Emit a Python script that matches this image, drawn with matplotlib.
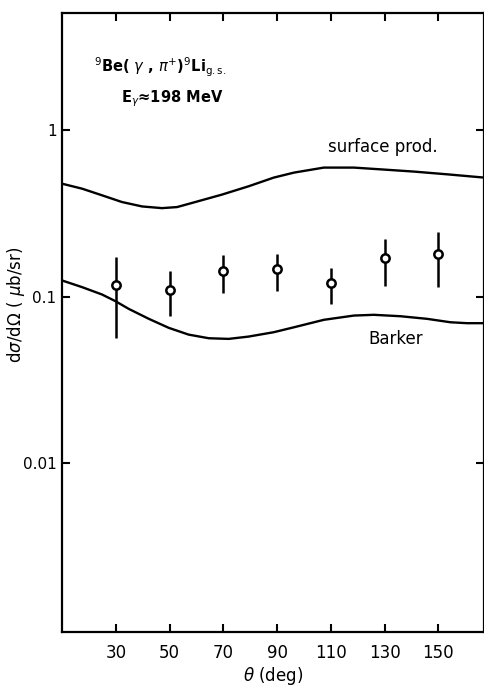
import matplotlib.pyplot as plt
from matplotlib.ticker import NullLocator, FixedLocator, FixedFormatter

# measured cross sections with error bar ends
theta = [30, 50, 70, 90, 110, 130, 150]
sigma = [0.118, 0.109, 0.142, 0.147, 0.120, 0.170, 0.179]
sigma_lo = [0.056, 0.076, 0.105, 0.108, 0.090, 0.115, 0.114]
sigma_hi = [0.174, 0.142, 0.178, 0.181, 0.148, 0.221, 0.244]

# surface production calculation
theta_surf = [10, 17.5, 24.9, 32.3, 39.8, 47.2, 52.8, 59.6, 69.5, 79.4, 88.8,
              96.3, 107.4, 118.6, 129.7, 140.9, 153.3, 167]
sigma_surf = [0.477, 0.445, 0.406, 0.370, 0.348, 0.340, 0.345, 0.370, 0.410,
              0.460, 0.519, 0.556, 0.596, 0.596, 0.580, 0.564, 0.543, 0.519]

# Barker wave functions
theta_barker = [10, 17.5, 24.9, 29.9, 34.8, 42.3, 49.7, 57.1, 64.6, 72.0, 79.4,
                88.8, 96.3, 107.4, 118.6, 126.0, 135.9, 145.8, 154.5, 160.7, 167]
sigma_barker = [0.1249, 0.1138, 0.1028, 0.0937, 0.0843, 0.0734, 0.0648, 0.0590,
                0.0561, 0.0556, 0.0574, 0.0610, 0.0653, 0.0724, 0.0768, 0.0776,
                0.0761, 0.0734, 0.0700, 0.0691, 0.0691]

x_ticks = [30, 50, 70, 90, 110, 130, 150]
y_ticks = [0.01, 0.1, 1]
y_ticklabels = ["0.01", "0.1", "1"]

fig = plt.figure(figsize=(4.84, 6.87), dpi=100)
ax = fig.add_axes([62 / 484, 55 / 687, 422 / 484, 619 / 687])

ax.plot(theta_surf, sigma_surf, color="black", lw=1.7)
ax.plot(theta_barker, sigma_barker, color="black", lw=1.7)

yerr = [[s - lo for s, lo in zip(sigma, sigma_lo)],
        [hi - s for s, hi in zip(sigma, sigma_hi)]]
ax.errorbar(theta, sigma, yerr=yerr, fmt="o", color="black", mfc="white",
            mec="black", mew=1.8, ms=6, elinewidth=1.8, capsize=0)

ax.set_yscale("log")
ax.set_xlim(10, 167)
ax.set_ylim(0.00096, 5.07)

ax.xaxis.set_major_locator(FixedLocator(x_ticks))
ax.yaxis.set_major_locator(FixedLocator(y_ticks))
ax.yaxis.set_major_formatter(FixedFormatter(y_ticklabels))
ax.yaxis.set_minor_locator(NullLocator())
ax.tick_params(axis="both", direction="in", width=1.5, length=6,
               top=True, right=True)
ax.tick_params(axis="x", pad=9, labelsize=12)
ax.tick_params(axis="y", pad=4, labelsize=11)
for side in ax.spines.values():
    side.set_linewidth(1.6)

ax.set_xlabel(r"$\theta$ (deg)", fontsize=12, labelpad=2)
fig.text(0.034, 0.556, r"d$\sigma$/d$\Omega$ ( $\mu$b/sr)", rotation=90,
         fontsize=12, ha="center", va="center")

ax.text(0.075, 0.905, r"$^{9}$Be( $\gamma$ , $\pi^{+}$)$^{9}$Li$_{\rm g.s.}$",
        transform=ax.transAxes, fontsize=10.5, weight="bold")
ax.text(0.14, 0.855, r"E$_{\gamma}$≈198 MeV", transform=ax.transAxes,
        fontsize=10.5, weight="bold")
ax.text(0.63, 0.775, "surface prod.", transform=ax.transAxes, fontsize=12)
ax.text(0.725, 0.465, "Barker", transform=ax.transAxes, fontsize=12)

plt.savefig("out.png", dpi=100)
